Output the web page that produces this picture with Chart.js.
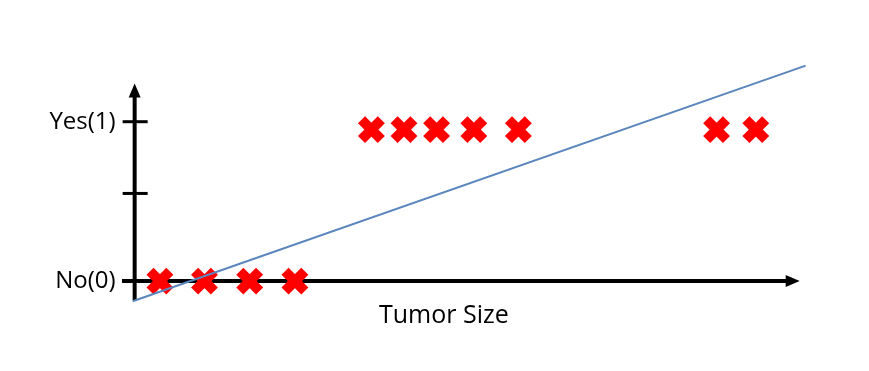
<!DOCTYPE html>
<html>
<head>
<meta charset="utf-8">
<script src="https://cdn.jsdelivr.net/npm/chart.js@4"></script>
<style>
  html, body { margin: 0; padding: 0; background: #fff; }
  #wrap { width: 869px; height: 371px; }
</style>
</head>
<body>
<div id="wrap"><canvas id="chart" width="869" height="371"></canvas></div>
<script>
// tumor sizes (arbitrary units along the axis) and outcome (0 = no, 1 = yes)
const noSizes = [3.8, 10.5, 17.3, 24.1];
const noValues = [0, 0, 0, 0];
const yesSizes = [35.6, 40.5, 45.4, 51.0, 57.7, 87.5, 93.4];
const yesValues = [0.95, 0.95, 0.95, 0.95, 0.95, 0.95, 0.95];

// straight-line fit drawn across the data
const fitX = [-0.3, 100.9];
const fitY = [-0.126, 1.352];

const yTickValues = [0, 0.55, 1];
const yTickLabels = ['No(0)', '', 'Yes(1)'];
const xTitle = 'Tumor Size';

const FONT = '"Open Sans", "Noto Sans", sans-serif';

// draws the arrowed axes, crossing tick marks and labels
const axesPlugin = {
    id: 'arrowAxes',
    beforeDatasetsDraw(chart) {
        const ctx = chart.ctx;
        const xs = chart.scales.x;
        const ys = chart.scales.y;
        const x0 = xs.getPixelForValue(0);
        const y0 = ys.getPixelForValue(0);
        const xEnd = xs.getPixelForValue(100);
        const xStart = xs.getPixelForValue(-1.9);
        const yTop = ys.getPixelForValue(1.24);
        const yBottom = ys.getPixelForValue(-0.12);

        ctx.save();
        ctx.strokeStyle = '#000';
        ctx.fillStyle = '#000';
        ctx.lineWidth = 4;

        // x axis
        ctx.beginPath();
        ctx.moveTo(xStart, y0);
        ctx.lineTo(xEnd - 12, y0);
        ctx.stroke();
        ctx.beginPath();
        ctx.moveTo(xEnd, y0);
        ctx.lineTo(xEnd - 14, y0 - 6);
        ctx.lineTo(xEnd - 14, y0 + 6);
        ctx.closePath();
        ctx.fill();

        // y axis
        ctx.beginPath();
        ctx.moveTo(x0, yBottom);
        ctx.lineTo(x0, yTop + 12);
        ctx.stroke();
        ctx.beginPath();
        ctx.moveTo(x0, yTop);
        ctx.lineTo(x0 - 6, yTop + 14);
        ctx.lineTo(x0 + 6, yTop + 14);
        ctx.closePath();
        ctx.fill();

        // tick marks and labels
        ctx.lineWidth = 3;
        ctx.font = '24px ' + FONT;
        ctx.textAlign = 'right';
        ctx.textBaseline = 'middle';
        yTickValues.forEach((v, i) => {
            const py = ys.getPixelForValue(v);
            ctx.beginPath();
            ctx.moveTo(x0 - 12, py);
            ctx.lineTo(x0 + 13, py);
            ctx.stroke();
            if (yTickLabels[i]) ctx.fillText(yTickLabels[i], x0 - 19, py);
        });

        // axis title
        ctx.font = '25px ' + FONT;
        ctx.textAlign = 'center';
        ctx.textBaseline = 'alphabetic';
        ctx.fillText(xTitle, xs.getPixelForValue(46.5), 323);
        ctx.restore();
    }
};

const toPoints = (xv, yv) => xv.map((x, i) => ({ x: x, y: yv[i] }));

new Chart(document.getElementById('chart'), {
    type: 'scatter',
    data: {
        datasets: [
            {
                type: 'line',
                data: toPoints(fitX, fitY),
                borderColor: '#5a86bd',
                borderWidth: 2,
                pointRadius: 0,
                fill: false,
                clip: false,
                order: 0
            },
            {
                data: toPoints(noSizes, noValues).concat(toPoints(yesSizes, yesValues)),
                pointStyle: 'crossRot',
                pointRadius: 14,
                borderWidth: 10,
                borderColor: '#ff0000',
                backgroundColor: '#ff0000',
                clip: false,
                order: 1
            }
        ]
    },
    options: {
        responsive: false,
        animation: false,
        layout: { padding: { left: 128, right: 56, top: 42, bottom: 58 } },
        plugins: { legend: { display: false }, tooltip: { enabled: false } },
        scales: {
            x: { type: 'linear', min: -1, max: 102, display: false },
            y: { type: 'linear', min: -0.2, max: 1.5, display: false }
        }
    },
    plugins: [axesPlugin]
});
</script>
</body>
</html>
